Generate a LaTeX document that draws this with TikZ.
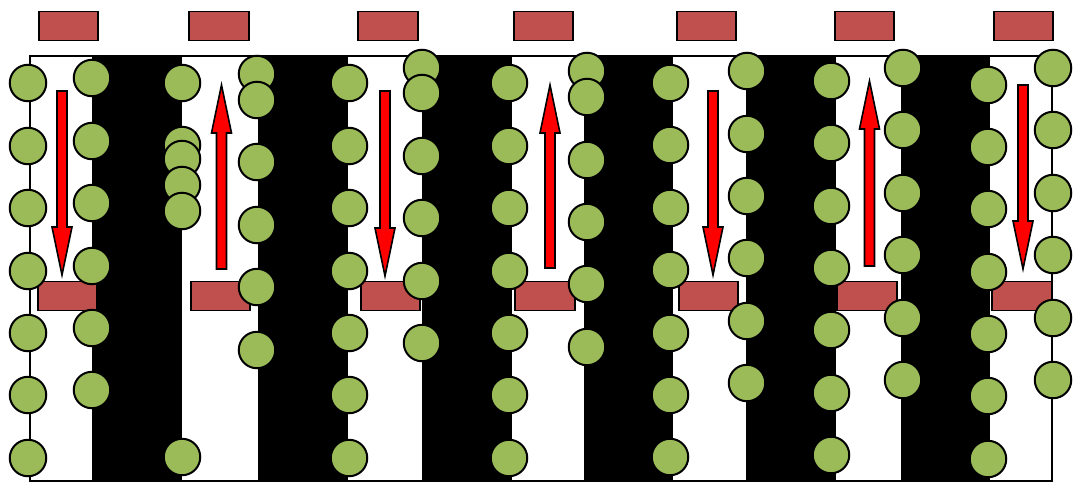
\documentclass[tikz,border=0pt]{standalone}
\usetikzlibrary{calc}
\definecolor{gr}{HTML}{9BBB59}
\definecolor{rb}{HTML}{C0504D}
\begin{document}
\begin{tikzpicture}[x=1pt,y=-1pt,
  ball/.style={circle,draw=black,fill=gr,line width=2pt,minimum size=36.5pt,inner sep=0pt},
  plate/.style={rectangle,draw=black,fill=rb,line width=1.8pt,minimum width=59.5pt,minimum height=29pt,inner sep=0pt},
  band/.style={fill=black},
  flow/.style={draw=black,fill=red,line width=1.6pt,line join=miter}]
\useasboundingbox (0,0) rectangle (1073,482);
% black bands
\foreach \a/\b in {92/182,258/348,422/512,584/673,746/836,901/990}
  \fill[band] (\a,56) rectangle (\b,481);
% frame
\draw[line width=1.8pt] (30,56) rectangle (1052,481);
% top plates
\foreach \x [count=\i] in {68.5,219,388,543.5,706.5,864.5,1023.5}
  \node[plate] (top\i) at (\x,26) {};
% middle plates
\foreach \x [count=\i] in {67.5,220.5,390.5,545,708.5,867,1022}
  \node[plate] (mid\i) at (\x,296) {};
% balls
\foreach \col/\x/\ys in {A/28/{83,146,208,271,333,395,458},
  B/92/{78,141,203,266,328,390},
  C/182/{83,145,159,185,211,457},
  D/257/{74,100,162,225,287,350},
  E/349/{83,146,208,271,333,395,458},
  F/422/{68,93,156,218,281,343},
  G/509/{83,146,208,271,333,395,458},
  H/587/{71,97,160,222,284,347},
  I/670/{83,145,208,270,333,395,457},
  J/747/{71,134,196,258,321,383},
  K/831/{81,143,206,268,330,393,455},
  L/903/{68,130,193,255,318,380},
  M/988/{85,147,209,272,334,396,459},
  N/1053/{68,130,193,255,318,380}}
  \foreach \y [count=\j] in \ys
    \node[ball] (b\col\j) at (\x,\y) {};
% flow arrows: down
\foreach \cx/\ya/\yb in {62/91/275,385/91/276,713/91/275,1023/85/269}
  \draw[flow] (\cx-5,\ya) -- (\cx+5,\ya) -- (\cx+5,\yb-48) -- (\cx+10,\yb-48) -- (\cx,\yb) -- (\cx-10,\yb-48) -- (\cx-5,\yb-48) -- cycle;
% flow arrows: up
\foreach \cx/\ya/\yb in {221.5/269/85,550/268/85,869.5/266/81}
  \draw[flow] (\cx-5,\ya) -- (\cx+5,\ya) -- (\cx+5,\yb+48) -- (\cx+10,\yb+48) -- (\cx,\yb) -- (\cx-10,\yb+48) -- (\cx-5,\yb+48) -- cycle;
\end{tikzpicture}
\end{document}
